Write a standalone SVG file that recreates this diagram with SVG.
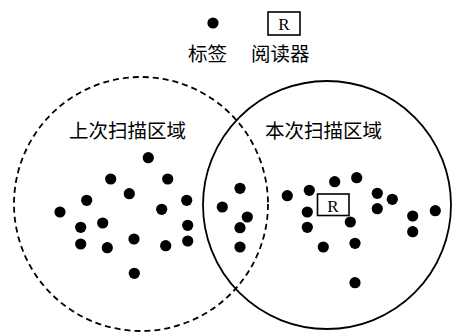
<svg xmlns="http://www.w3.org/2000/svg" width="455" height="333" viewBox="0 0 455 333">
<style>
.t{font-family:"Liberation Serif","Noto Sans CJK SC",serif;font-size:19.5px;fill:#000}
.r{font-family:"Liberation Serif",serif;font-size:17px;fill:#000;text-anchor:middle}
.box{fill:#fff;stroke:#000;stroke-width:1.6}
circle.d{fill:#000}
</style>
<defs><circle id="dot" r="5.6"/></defs>
<rect width="455" height="333" fill="#fff"/>
<g id="legend">
<g id="legend-tag"><use href="#dot" x="213" y="23"/><text class="t" x="188" y="61">标签</text></g>
<g id="legend-reader"><rect class="box" x="268" y="12" width="32" height="23"/><text class="r" x="284" y="30">R</text><text class="t" x="251" y="61">阅读器</text></g>
</g>
<g id="last-scan">
<circle cx="141" cy="204" r="127" fill="none" stroke="#000" stroke-width="1.8" stroke-dasharray="6,4"/>
<text class="t" x="69" y="138">上次扫描区域</text>
</g>
<g id="this-scan">
<circle cx="327" cy="205" r="124" fill="none" stroke="#000" stroke-width="1.8"/>
<text class="t" x="265" y="138">本次扫描区域</text>
</g>
<g id="tags">
<use href="#dot" x="148.3" y="157.7"/>
<use href="#dot" x="110.7" y="179"/>
<use href="#dot" x="167.7" y="179"/>
<use href="#dot" x="129.3" y="193.7"/>
<use href="#dot" x="86.7" y="200.3"/>
<use href="#dot" x="186.7" y="200.3"/>
<use href="#dot" x="60" y="212"/>
<use href="#dot" x="161.7" y="209.3"/>
<use href="#dot" x="102.7" y="223"/>
<use href="#dot" x="80.7" y="227.3"/>
<use href="#dot" x="187.7" y="225.3"/>
<use href="#dot" x="80.7" y="244"/>
<use href="#dot" x="107.3" y="247.7"/>
<use href="#dot" x="134" y="239"/>
<use href="#dot" x="165.7" y="245.7"/>
<use href="#dot" x="187.7" y="241"/>
<use href="#dot" x="134.3" y="273.3"/>
<use href="#dot" x="222.3" y="207"/>
<use href="#dot" x="240" y="188.3"/>
<use href="#dot" x="247.3" y="217"/>
<use href="#dot" x="240" y="227.7"/>
<use href="#dot" x="240" y="247"/>
<use href="#dot" x="287.3" y="195.7"/>
<use href="#dot" x="309.3" y="190.3"/>
<use href="#dot" x="334.7" y="181.7"/>
<use href="#dot" x="356.7" y="177.7"/>
<use href="#dot" x="307.3" y="212"/>
<use href="#dot" x="307.3" y="227.3"/>
<use href="#dot" x="323.3" y="247"/>
<use href="#dot" x="355" y="243.3"/>
<use href="#dot" x="355" y="282.7"/>
<use href="#dot" x="377.3" y="193.3"/>
<use href="#dot" x="392.3" y="199.3"/>
<use href="#dot" x="377.3" y="208.7"/>
<use href="#dot" x="412.7" y="216"/>
<use href="#dot" x="435.3" y="210.7"/>
<use href="#dot" x="412.7" y="231.7"/>
</g>
<g id="reader">
<rect class="box" x="317.5" y="194" width="31.5" height="21.5"/>
<text class="r" x="333" y="212">R</text>
</g>
<g id="tag-near-reader"><use href="#dot" x="350.3" y="222"/></g>
</svg>
